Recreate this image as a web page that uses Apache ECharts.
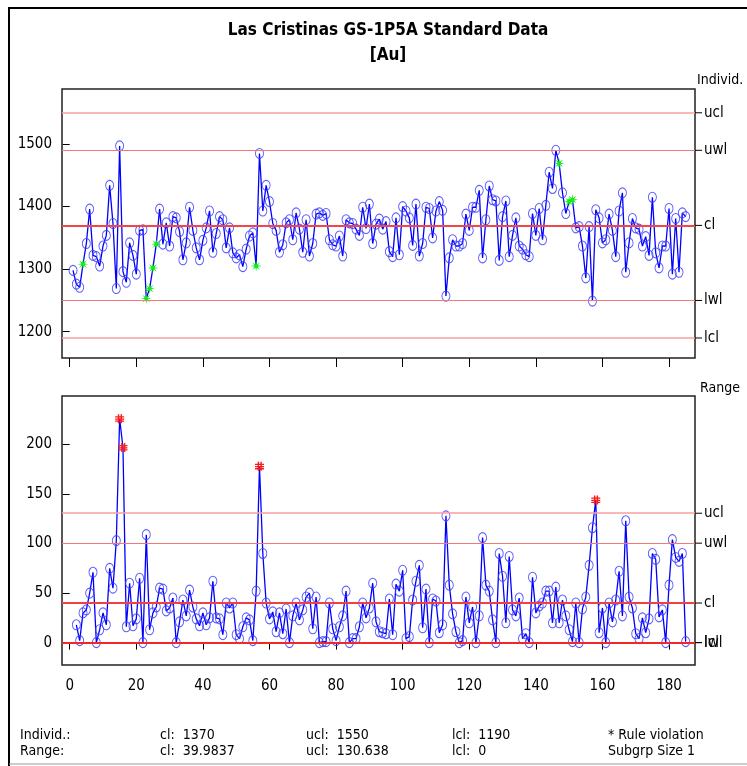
<!DOCTYPE html>
<html>
<head>
<meta charset="utf-8">
<script src="https://cdn.jsdelivr.net/npm/echarts@6/dist/echarts.min.js"></script>
<style>html,body{margin:0;padding:0;background:#fff;}#c{width:747px;height:766px;}</style>
</head>
<body>
<div id="c"></div>
<script>
// ---------- data ----------
const individuals = [
1298,1276,1271,1308,1341,1396,1322,1320,1305,1337,
1354,1434,1373,1269,1497,1296,1279,1342,1322,1292,
1362,1363,1253,1269,1302,1340,1396,1340,1374,1337,
1384,1382,1360,1315,1342,1399,1362,1334,1315,1346,
1366,1393,1327,1357,1384,1379,1334,1366,1326,1318,
1323,1304,1332,1353,1358,1305,1485,1393,1434,1408,
1373,1362,1327,1339,1374,1379,1347,1390,1364,1327,
1379,1321,1341,1388,1390,1386,1389,1347,1339,1337,
1353,1321,1379,1374,1373,1364,1354,1399,1365,1404,
1341,1372,1380,1364,1376,1328,1320,1382,1323,1400,
1393,1382,1338,1404,1321,1341,1399,1397,1350,1393,
1408,1394,1257,1318,1347,1337,1337,1341,1388,1362,
1399,1399,1426,1318,1379,1433,1411,1409,1314,1384,
1409,1320,1354,1382,1337,1332,1323,1320,1389,1354,
1397,1347,1402,1455,1429,1490,1469,1422,1389,1408,
1411,1366,1368,1337,1286,1368,1249,1395,1382,1342,
1347,1388,1362,1320,1393,1422,1295,1342,1381,1366,
1364,1337,1352,1322,1415,1326,1302,1337,1337,1397,
1292,1381,1295,1390,1384
];
// moving ranges, starting at sample 2
const ranges = [
18,2,30,33,50,71,0,13,30,18,
75,55,103,226,197,16,60,17,24,65,
0,109,13,30,36,55,54,32,35,45,
0,21,43,27,53,36,24,17,30,18,
25,62,25,24,8,40,35,40,8,4,
16,25,23,2,52,178,90,40,24,31,
11,30,9,34,0,27,40,23,33,46,
50,14,46,0,1,1,40,14,2,16,
27,52,0,4,4,16,40,25,35,60,
21,11,10,9,44,8,59,52,73,4,
6,43,62,78,15,54,0,44,42,10,
18,128,58,29,11,0,2,46,20,36,
0,27,106,58,52,23,0,90,67,20,
87,33,27,45,4,9,0,66,30,37,
40,52,52,20,56,20,43,27,13,1,
40,0,34,46,78,116,144,10,35,0,
40,21,43,72,27,123,46,35,9,4,
25,10,24,90,84,26,33,0,58,104,
86,82,90,1
];
const indViolations = [4,23,24,25,26,56,147,150,151];
const rangeViolations = [15,16,57,158];
const xTicks = [0,20,40,60,80,100,120,140,160,180];
const indTicks = [1200,1300,1400,1500];
const rangeTicks = [0,50,100,150,200];
const limitNames = ['ucl','uwl','cl','lwl','lcl'];
const indLimits = [1550,1490,1370,1250,1190];
const rangeLimits = [130.638,100.42,39.9837,0,0];

// ---------- styling ----------
const FONT = "'Liberation Sans Narrow','DejaVu Sans Condensed','Arial Narrow',sans-serif";
const limitStyles = {
  ucl: {color:'#f7a0a0', width:1.5},
  uwl: {color:'#f07878', width:1.2},
  cl:  {color:'#f04848', width:2},
  lwl: {color:'#f07878', width:1.2},
  lcl: {color:'#f7a0a0', width:1.5}
};
const rangeLimitStyles = {
  ucl: {color:'#f7a0a0', width:1.5},
  uwl: {color:'#f07878', width:1.2},
  cl:  {color:'#f04040', width:1.8},
  lwl: {color:'#f02828', width:1.8},
  lcl: {color:'#f02828', width:1.8}
};
function starPath(n, r1, r2){
  let s='';
  for(let k=0;k<2*n;k++){
    const a=Math.PI*k/n - Math.PI/2;
    const r=(k%2)?r2:r1;
    s+=(k?'L':'M')+(10+r*Math.cos(a)).toFixed(2)+','+(10+r*Math.sin(a)).toFixed(2);
  }
  return 'path://'+s+'Z';
}
const STAR = starPath(8,10,3.2);
const HASH = 'path://M3,0h1.6v10h-1.6z M6,0h1.6v10h-1.6z M0,2.2h10v1.4h-10z M0,4.6h10v1.4h-10z M0,7h10v1.4h-10z';

const circleStyle = {color:'rgba(0,0,0,0)', borderColor:'rgba(60,60,255,0.85)', borderWidth:1};

const indData = individuals.map((v,i)=>{
  const x=i+1;
  const item={value:[x,v]};
  if(indViolations.includes(x)){
    item.symbol=STAR; item.symbolSize=11;
    item.itemStyle={color:'#11ee11', borderWidth:0};
  }
  return item;
});
const rangeData = ranges.map((v,i)=>{
  const x=i+2;
  const item={value:[x,v]};
  if(rangeViolations.includes(x)){
    item.symbol=HASH; item.symbolSize=9;
    item.itemStyle={color:'#ff1818', borderWidth:0};
  }
  return item;
});

function markLines(values, styles){
  return {
    silent:true, symbol:'none', animation:false,
    data: limitNames.map((n,k)=>({
      yAxis: values[k],
      lineStyle:{type:'solid', color:styles[n].color, width:styles[n].width},
      label:{
        show:true, position:'end', distance:0,
        formatter:'{tk|}{t|'+n+'}',
        rich:{
          tk:{width:7, height:1, backgroundColor:'#000'},
          t:{fontSize:15, fontFamily:FONT, color:'#000', padding:[0,0,0,2]}
        }
      }
    }))
  };
}

const chart = echarts.init(document.getElementById('c'), null, {renderer:'canvas'});
const axisLabelStyle = {fontSize:15, fontFamily:FONT, color:'#000', formatter:(v)=>String(v)};

chart.setOption({
  animation:false,
  backgroundColor:'#fff',
  grid:[
    {left:62, top:89, width:633, height:269, show:true, borderColor:'#222', borderWidth:1.5, backgroundColor:'#fff'},
    {left:62, top:396, width:633, height:269, show:true, borderColor:'#222', borderWidth:1.5, backgroundColor:'#fff'}
  ],
  xAxis:[
    {gridIndex:0, type:'value', min:-2.31, max:187.8,
     axisLine:{show:false}, splitLine:{show:false},
     axisTick:{show:true, inside:false, length:9, customValues:xTicks, lineStyle:{color:'#000', width:1}},
     axisLabel:{show:false}},
    {gridIndex:1, type:'value', min:-2.31, max:187.8,
     axisLine:{show:false}, splitLine:{show:false},
     axisTick:{show:true, inside:false, length:7, customValues:xTicks, lineStyle:{color:'#000', width:1}},
     axisLabel:Object.assign({show:true, margin:14, customValues:xTicks}, axisLabelStyle)}
  ],
  yAxis:[
    {gridIndex:0, type:'value', min:1158, max:1588,
     axisLine:{show:false}, splitLine:{show:false},
     axisTick:{show:true, inside:false, length:7, customValues:indTicks, lineStyle:{color:'#000'}},
     axisLabel:Object.assign({show:true, margin:10, customValues:indTicks}, axisLabelStyle)},
    {gridIndex:1, type:'value', min:-22.6, max:249,
     axisLine:{show:false}, splitLine:{show:false},
     axisTick:{show:true, inside:false, length:7, customValues:rangeTicks, lineStyle:{color:'#000'}},
     axisLabel:Object.assign({show:true, margin:10, customValues:rangeTicks}, axisLabelStyle)}
  ],
  series:[
    {type:'line', xAxisIndex:0, yAxisIndex:0, data:indData,
     symbol:'circle', symbolSize:[8,10], showAllSymbol:true,
     lineStyle:{color:'#0000ff', width:1.3}, itemStyle:circleStyle,
     markLine:markLines(indLimits, limitStyles), z:3},
    {type:'line', xAxisIndex:1, yAxisIndex:1, data:rangeData,
     symbol:'circle', symbolSize:[8,10], showAllSymbol:true,
     lineStyle:{color:'#0000ff', width:1.3}, itemStyle:circleStyle,
     markLine:markLines(rangeLimits, rangeLimitStyles), z:3}
  ],
  graphic:[
    {type:'polyline', shape:{points:[[9,770],[9,8],[760,8]]}, style:{stroke:'#000', lineWidth:2, fill:null}},
    {type:'line', shape:{x1:9,y1:764,x2:760,y2:764}, style:{stroke:'#999', lineWidth:1}},
    {type:'text', x:388, y:31, style:{text:'Las Cristinas GS-1P5A Standard Data', font:'bold 17px '+FONT, fill:'#000', align:'center', verticalAlign:'middle'}},
    {type:'text', x:388, y:56, style:{text:'[Au]', font:'bold 17px '+FONT, fill:'#000', align:'center', verticalAlign:'middle'}},
    {type:'text', x:697, y:80, style:{text:'Individ.', font:'14px '+FONT, fill:'#000', align:'left', verticalAlign:'middle'}},
    {type:'text', x:700, y:388, style:{text:'Range', font:'14px '+FONT, fill:'#000', align:'left', verticalAlign:'middle'}},
    {type:'text', x:20, y:735, style:{text:'Individ.:', font:'14px '+FONT, fill:'#000', verticalAlign:'middle'}},
    {type:'text', x:20, y:751, style:{text:'Range:', font:'14px '+FONT, fill:'#000', verticalAlign:'middle'}},
    {type:'text', x:160, y:735, style:{text:'cl:  1370', font:'14px '+FONT, fill:'#000', verticalAlign:'middle'}},
    {type:'text', x:160, y:751, style:{text:'cl:  39.9837', font:'14px '+FONT, fill:'#000', verticalAlign:'middle'}},
    {type:'text', x:306, y:735, style:{text:'ucl:  1550', font:'14px '+FONT, fill:'#000', verticalAlign:'middle'}},
    {type:'text', x:306, y:751, style:{text:'ucl:  130.638', font:'14px '+FONT, fill:'#000', verticalAlign:'middle'}},
    {type:'text', x:452, y:735, style:{text:'lcl:  1190', font:'14px '+FONT, fill:'#000', verticalAlign:'middle'}},
    {type:'text', x:452, y:751, style:{text:'lcl:  0', font:'14px '+FONT, fill:'#000', verticalAlign:'middle'}},
    {type:'text', x:608, y:735, style:{text:'* Rule violation', font:'14px '+FONT, fill:'#000', verticalAlign:'middle'}},
    {type:'text', x:608, y:751, style:{text:'Subgrp Size 1', font:'14px '+FONT, fill:'#000', verticalAlign:'middle'}}
  ]
});
</script>
</body>
</html>
